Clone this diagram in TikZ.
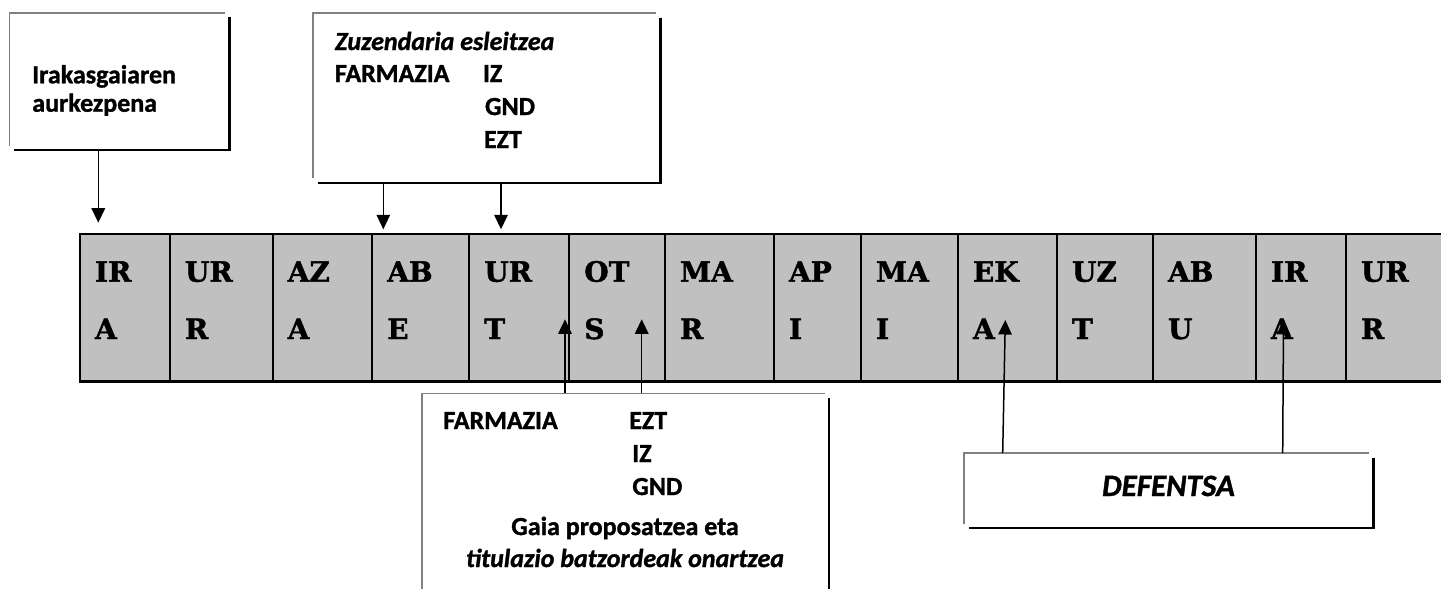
\documentclass[tikz,border=0pt]{standalone}
\usepackage{fontspec}
\setmainfont{Carlito}[BoldFeatures={FakeBold=1.2}, BoldItalicFeatures={FakeBold=1.2}]
\newfontfamily\slabfont{DejaVu Serif}[BoldFeatures={FakeBold=1.5}]
\usetikzlibrary{arrows.meta}
\definecolor{framegray}{RGB}{128,128,128}
\definecolor{cellgray}{RGB}{192,192,192}
\tikzset{
  lbl/.style={inner sep=0pt, outer sep=0pt, font=\fontsize{26}{31}\selectfont\bfseries, anchor=base west},
  lbli/.style={lbl, font=\fontsize{26}{31}\selectfont\bfseries\itshape},
  lblc/.style={lbl, anchor=base},
  lblci/.style={lbli, anchor=base},
  month/.style={inner sep=0pt, outer sep=0pt, font=\slabfont\fontsize{28}{33}\selectfont\bfseries, anchor=base west},
  cellbox/.style={draw=black, line width=2pt, fill=cellgray, inner sep=0pt, outer sep=0pt, anchor=north west, minimum height=147.7pt},
  tableframe/.style={draw=black, line width=2.6pt},
  boxarea/.style={inner sep=0pt, outer sep=0pt, anchor=north west},
  lightedge/.style={draw=framegray, line width=1.6pt},
  shadowedge/.style={draw=black, line width=2.2pt},
  arr/.style={-{Triangle[length=14.5pt,width=13.5pt]}, line width=1.5pt, draw=black},
}
\begin{document}
\begin{tikzpicture}[x=1pt,y=-1pt]
\useasboundingbox (0,0) rectangle (1441,589);
% ---- month table ----
\foreach \l/\r/\a/\b [count=\i] in {80/170/IR/A, 170/272.7/UR/R, 272.7/372.3/AZ/A, 372.3/469.3/AB/E, 469.3/569.3/UR/T, 569.3/665/OT/S, 665/774/MA/R, 774/861/AP/I, 861/958/MA/I, 958/1057/EK/A, 1057/1153/UZ/T, 1153/1256/AB/U, 1256/1346/IR/A, 1346/1452/UR/R} {
  \pgfmathsetmacro\w{\r-\l}
  \node[cellbox, minimum width=\w pt] (c\i) at (\l,234) {};
  \node[month] (mt\i) at (\l+15,281.7) {\a};
  \node[month] (mb\i) at (\l+15,339) {\b};
}
\draw[tableframe] (c1.north west) rectangle (c14.south east);
% ---- box 1 ----
\node[boxarea, minimum width=215.5pt, minimum height=132.8pt] (b1) at (9.5,12.7) {};
\draw[lightedge] (b1.south west) -- (b1.north west) -- (b1.north east);
\draw[shadowedge] ([shift={(4.5,4.5)}]b1.north east) -- ([shift={(4.5,4.5)}]b1.south east) -- ([shift={(4.5,4.5)}]b1.south west);
\node[lbl] (i1) at (32.3,83.3) {Irakasgaiaren};
\node[lbl] (i2) at (32.3,111.7) {aurkezpena};
% ---- box 2 ----
\node[boxarea, minimum width=342.8pt, minimum height=165pt] (b2) at (312.7,12.7) {};
\draw[lightedge] (b2.south west) -- (b2.north west) -- (b2.north east);
\draw[shadowedge] ([shift={(5,5)}]b2.north east) -- ([shift={(5,5)}]b2.south east) -- ([shift={(5,5)}]b2.south west);
\node[lbli] (z1) at (335,50) {Zuzendaria esleitzea};
\node[lbl] (z2) at (335,82) {FARMAZIA};
\node[lbl] (z3) at (483,82) {IZ};
\node[lbl] (z4) at (485,115) {GND};
\node[lbl] (z5) at (484,148) {EZT};
% ---- box 3 ----
\node[boxarea, minimum width=403.3pt, minimum height=226.7pt] (b3) at (421.7,393.3) {};
\draw[lightedge] (b3.south west) -- (b3.north west) -- (b3.north east);
\draw[shadowedge] ([shift={(4.3,4.3)}]b3.north east) -- ([shift={(4.3,4.3)}]b3.south east);
\node[lbl] (f1) at (443.3,429) {FARMAZIA};
\node[lbl] (f2) at (629.3,429) {EZT};
\node[lbl] (f3) at (632.3,462) {IZ};
\node[lbl] (f4) at (632.3,495) {GND};
\node[lblc] (f5) at (625,535) {Gaia proposatzea eta};
\node[lblci] (f6) at (625,567) {titulazio batzordeak onartzea};
% ---- box 4 ----
\node[boxarea, minimum width=405pt, minimum height=70.5pt] (b4) at (964,453) {};
\draw[lightedge] (b4.south west) -- (b4.north west) -- (b4.north east);
\draw[shadowedge] ([shift={(4.5,4.5)}]b4.north east) -- ([shift={(4.5,4.5)}]b4.south east) -- ([shift={(4.5,4.5)}]b4.south west);
\node[lblci, font=\fontsize{31}{37}\selectfont\bfseries\itshape] (d1) at (1168.5,496) {DEFENTSA};
% ---- arrows ----
\coordinate (a1s) at (98.3,150);    \coordinate (a1e) at (98.3,222.7);
\coordinate (a2s) at (383.3,182.7); \coordinate (a2e) at (383.3,229.3);
\coordinate (a3s) at (501,182.7);   \coordinate (a3e) at (501,229.3);
\coordinate (a4s) at (565,393.3);   \coordinate (a4e) at (565,319.3);
\coordinate (a5s) at (641.7,393.3); \coordinate (a5e) at (641.7,319.3);
\coordinate (a6s) at (1002.7,453);  \coordinate (a6e) at (1005.3,320);
\coordinate (a7s) at (1282.7,453);  \coordinate (a7e) at (1283.5,320);
\foreach \k in {1,...,7} { \draw[arr] (a\k s) -- (a\k e); }
\end{tikzpicture}
\end{document}
